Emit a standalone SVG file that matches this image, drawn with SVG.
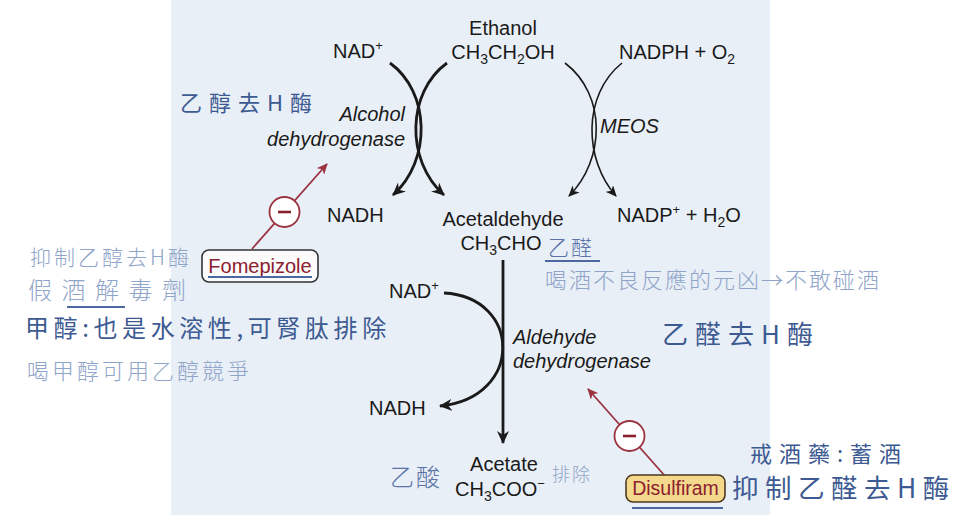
<svg xmlns="http://www.w3.org/2000/svg" width="970" height="515" viewBox="0 0 970 515">
<defs>
<style>
.t{font-family:"Liberation Sans",Arial,sans-serif;font-size:20px;fill:#1a1a1a}
.i{font-style:italic}
.m{text-anchor:middle}
.e{text-anchor:end}
.sub{font-size:14px}
.sup{font-size:13px}
.blk{fill:none;stroke:#1a1a1a;stroke-width:2.8}
.thin{fill:none;stroke:#1a1a1a;stroke-width:1.6}
.red{fill:none;stroke:#9b3340;stroke-width:1.8}
.inh{fill:#fff;stroke:#9b3340;stroke-width:1.8}
.minus{stroke:#8b2030;stroke-width:2.6}
.drug{font-family:"Liberation Sans",Arial,sans-serif;fill:#8b2030}
.hw{font-family:"Noto Sans CJK TC","Noto Sans CJK SC",sans-serif;font-weight:300}
.dk{fill:#3d5a92;font-weight:400}
.md{fill:#5a74aa}
.lt{fill:#8fa4c9}
.ul{stroke:#4d67a0;stroke-width:2;fill:none}
</style>
<marker id="ah" markerUnits="userSpaceOnUse" markerWidth="14" markerHeight="12" refX="12" refY="6" orient="auto">
<path d="M0,0 L13,6 L0,12 L4,6 z" fill="#1a1a1a"/>
</marker>
<marker id="ahs" markerUnits="userSpaceOnUse" markerWidth="12" markerHeight="10" refX="10" refY="5" orient="auto">
<path d="M0,0 L11,5 L0,10 L3,5 z" fill="#1a1a1a"/>
</marker>
<marker id="ahr" markerUnits="userSpaceOnUse" markerWidth="12" markerHeight="10" refX="10" refY="5" orient="auto">
<path d="M0,0 L11,5 L0,10 L3,5 z" fill="#9b3340"/>
</marker>
</defs>

<rect x="171" y="0" width="599" height="515" fill="#e9eff6"/>

<g id="connectors">
<path class="blk" d="M390,63 C430,92 432,160 393,195" marker-end="url(#ah)"/>
<path class="blk" d="M447,63 C407,92 405,160 444,195" marker-end="url(#ah)"/>
<path class="thin" d="M565,63 C607,95 605,160 569,196" marker-end="url(#ahs)"/>
<path class="thin" d="M622,63 C582,95 584,160 616,196" marker-end="url(#ahs)"/>
<path class="blk" d="M503,260 L503,443" marker-end="url(#ah)"/>
<path class="blk" d="M444,293 C522,297 524,398 440,406" marker-end="url(#ah)"/>
<path class="red" d="M252,249 L327,164" marker-end="url(#ahr)"/>
<path class="red" d="M665,476 L588,389" marker-end="url(#ahr)"/>
</g>

<g id="ethanol">
<text class="t m" x="503" y="35">Ethanol</text>
<text class="t m" x="503" y="59">CH<tspan class="sub" dy="5">3</tspan><tspan dy="-5">CH</tspan><tspan class="sub" dy="5">2</tspan><tspan dy="-5">OH</tspan></text>
</g>
<g id="nad-top"><text class="t" x="333" y="58">NAD<tspan class="sup" dy="-8">+</tspan></text></g>
<g id="nadph"><text class="t" x="619" y="59">NADPH + O<tspan class="sub" dy="5">2</tspan></text></g>
<g id="alcohol-dh">
<text class="t i e" x="405" y="121">Alcohol</text>
<text class="t i e" x="405" y="146">dehydrogenase</text>
</g>
<g id="meos"><text class="t i" x="600" y="133">MEOS</text></g>
<g id="nadh-top"><text class="t" x="327" y="222">NADH</text></g>
<g id="acetaldehyde">
<text class="t m" x="503" y="226">Acetaldehyde</text>
<text class="t m" x="501" y="250">CH<tspan class="sub" dy="5">3</tspan><tspan dy="-5">CHO</tspan></text>
</g>
<g id="nadp"><text class="t" x="617" y="222">NADP<tspan class="sup" dy="-8">+</tspan><tspan dy="8"> + H</tspan><tspan class="sub" dy="5">2</tspan><tspan dy="-5">O</tspan></text></g>
<g id="nad-low"><text class="t" x="389" y="298">NAD<tspan class="sup" dy="-8">+</tspan></text></g>
<g id="aldehyde-dh">
<text class="t i" x="513" y="344">Aldehyde</text>
<text class="t i" x="513" y="368">dehydrogenase</text>
</g>
<g id="nadh-low"><text class="t" x="369" y="415">NADH</text></g>
<g id="acetate">
<text class="t m" x="504" y="471">Acetate</text>
<text class="t m" x="500" y="496">CH<tspan class="sub" dy="5">3</tspan><tspan dy="-5">COO</tspan><tspan class="sup" dy="-8">−</tspan></text>
</g>

<g id="fomepizole">
<circle class="inh" cx="284.5" cy="212" r="15"/>
<line class="minus" x1="278" y1="212" x2="291" y2="212"/>
<rect x="202" y="250" width="116" height="32" rx="7" fill="#fbfbfb" stroke="#333" stroke-width="1.6"/>
<text class="drug m" x="260" y="273" font-size="20">Fomepizole</text>
</g>
<g id="disulfiram">
<circle class="inh" cx="629.5" cy="436" r="15"/>
<line class="minus" x1="623" y1="436" x2="636" y2="436"/>
<rect x="626" y="475" width="99" height="27" rx="7" fill="#f4d88c" stroke="#4a3a22" stroke-width="1.6"/>
<text class="drug m" x="675.5" y="495" font-size="19.5">Disulfiram</text>
</g>

<g id="annotations">
<text class="hw dk" x="180" y="111" font-size="22" letter-spacing="7">乙醇去H酶</text>
<text class="hw lt" x="30" y="265" font-size="21" letter-spacing="3">抑制乙醇去H酶</text>
<text class="hw lt" x="28" y="299" font-size="24" letter-spacing="9.5">假酒解毒劑</text>
<line class="ul" x1="67" y1="307" x2="125" y2="307"/>
<text class="hw dk" x="25" y="337" font-size="24" letter-spacing="4.6">甲醇:也是水溶性,可腎肽排除</text>
<text class="hw lt" x="27" y="379" font-size="22" letter-spacing="3">喝甲醇可用乙醇競爭</text>
<line class="ul" x1="208" y1="277" x2="312" y2="277"/>
<text class="hw md" x="548" y="255" font-size="21" letter-spacing="2">乙醛</text>
<line class="ul" x1="545" y1="261" x2="600" y2="261"/>
<text class="hw lt" x="545" y="288" font-size="22" letter-spacing="2">喝酒不良反應的元凶→不敢碰酒</text>
<text class="hw dk" x="662" y="344" font-size="26" letter-spacing="7">乙醛去H酶</text>
<text class="hw md" x="390" y="486" font-size="24" letter-spacing="2">乙酸</text>
<text class="hw lt" x="552" y="481" font-size="18" letter-spacing="2">排除</text>
<text class="hw dk" x="750" y="462" font-size="22" letter-spacing="7">戒酒藥:蓄酒</text>
<text class="hw dk" x="732" y="498" font-size="26.5" letter-spacing="6.5">抑制乙醛去H酶</text>
<line class="ul" x1="632" y1="508" x2="723" y2="508"/>
</g>
</svg>
